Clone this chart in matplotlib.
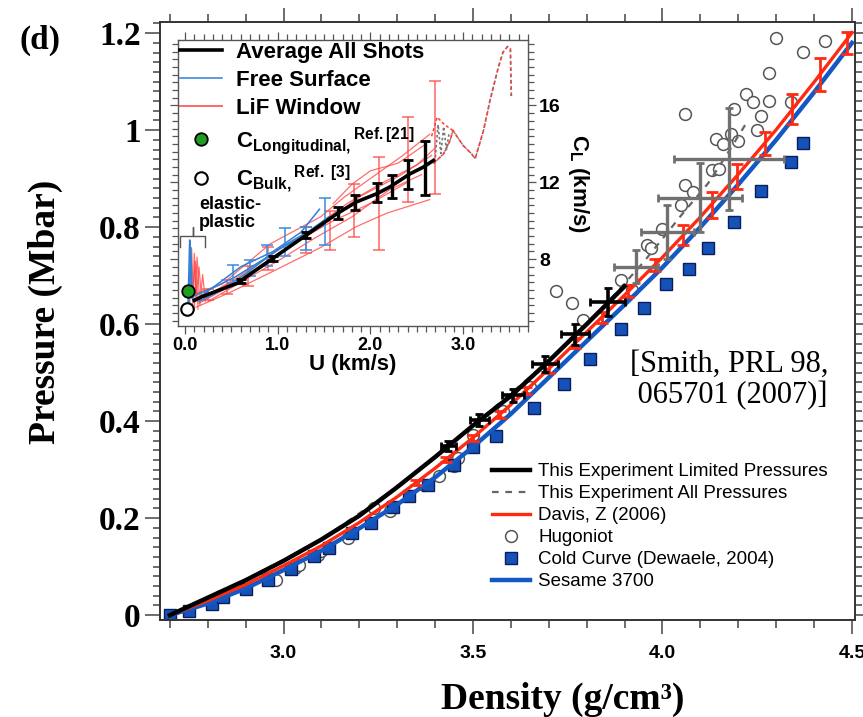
import matplotlib
matplotlib.use("Agg")
import matplotlib.pyplot as plt
from matplotlib.ticker import MultipleLocator, FixedLocator
from matplotlib.lines import Line2D

plt.rcParams['font.family'] = ['Liberation Sans', 'DejaVu Sans']
plt.rcParams['mathtext.fontset'] = 'custom'
plt.rcParams['mathtext.rm'] = 'Liberation Sans:bold'
plt.rcParams['mathtext.bf'] = 'Liberation Sans:bold'
plt.rcParams['mathtext.it'] = 'Liberation Sans:bold:italic'

SERIF = ['Liberation Serif', 'DejaVu Serif']

# ---- main panel: pressure (Mbar) vs density (g/cm3) ----
sesame_rho = [2.70, 2.80, 2.90, 3.00, 3.10, 3.20, 3.30, 3.40, 3.50, 3.60,
              3.70, 3.80, 3.90, 4.00, 4.10, 4.20, 4.30, 4.40, 4.50]
sesame_p = [0.000, 0.024, 0.055, 0.093, 0.133, 0.179, 0.228, 0.284, 0.347, 0.415,
            0.490, 0.565, 0.640, 0.717, 0.800, 0.888, 0.980, 1.078, 1.180]

davis_rho = sesame_rho
davis_p = [0.000, 0.030, 0.063, 0.102, 0.143, 0.191, 0.244, 0.303, 0.366, 0.434,
           0.508, 0.584, 0.660, 0.738, 0.821, 0.909, 1.001, 1.099, 1.201]

limited_rho = [2.70, 2.80, 2.90, 3.00, 3.10, 3.20, 3.30, 3.40, 3.50, 3.60, 3.70, 3.80, 3.90]
limited_p = [0.000, 0.036, 0.072, 0.112, 0.156, 0.205, 0.264, 0.326, 0.391, 0.452, 0.524, 0.600, 0.678]

allp_rho = [2.70, 2.90, 3.10, 3.30, 3.50, 3.70, 3.85, 3.95, 4.00, 4.05, 4.12, 4.17, 4.22]
allp_p = [0.000, 0.072, 0.156, 0.264, 0.391, 0.524, 0.640, 0.728, 0.776, 0.825, 0.890, 0.950, 1.013]

hug_rho = [2.96, 2.98, 3.03, 3.04, 3.09, 3.10, 3.17, 3.24, 3.28, 3.37, 3.41, 3.45,
           3.46, 3.50, 3.58, 3.65, 3.72, 3.76, 3.79, 3.89, 3.92, 3.96, 3.97, 4.00,
           4.05, 4.06, 4.08, 4.06, 4.13, 4.14, 4.15, 4.16, 4.18, 4.19, 4.20, 4.22,
           4.24, 4.25, 4.26, 4.28, 4.28, 4.30, 4.34, 4.37, 4.43]
hug_p = [0.077, 0.073, 0.097, 0.103, 0.125, 0.132, 0.159, 0.221, 0.214, 0.269, 0.286, 0.307,
         0.324, 0.372, 0.420, 0.471, 0.668, 0.643, 0.608, 0.691, 0.670, 0.764, 0.756, 0.797,
         0.845, 0.886, 0.872, 1.034, 0.917, 0.981, 0.920, 0.972, 0.992, 1.044, 0.977, 1.075,
         1.058, 1.001, 1.029, 1.061, 1.117, 1.191, 1.058, 1.162, 1.184]

cold_rho = [2.70, 2.75, 2.81, 2.84, 2.90, 2.96, 3.02, 3.08, 3.12, 3.18, 3.23, 3.29,
            3.33, 3.38, 3.45, 3.50, 3.56, 3.66, 3.74, 3.81, 3.89, 3.95, 4.01, 4.07,
            4.12, 4.19, 4.26, 4.34, 4.37]
cold_p = [0.000, 0.008, 0.023, 0.037, 0.054, 0.072, 0.095, 0.121, 0.138, 0.169, 0.191, 0.222,
          0.245, 0.269, 0.310, 0.346, 0.370, 0.428, 0.476, 0.528, 0.589, 0.634, 0.682, 0.714,
          0.757, 0.810, 0.875, 0.935, 0.974]

# error crosses on the limited-pressure data
lim_err_rho = [3.435, 3.517, 3.606, 3.690, 3.769, 3.855]
lim_err_p = [0.349, 0.403, 0.453, 0.518, 0.579, 0.646]
lim_err_drho = [0.020, 0.024, 0.029, 0.035, 0.037, 0.047]
lim_err_dp = [0.010, 0.012, 0.014, 0.017, 0.022, 0.029]

# error crosses on the all-pressure data
all_err_rho = [3.930, 4.013, 4.099, 4.176]
all_err_p = [0.718, 0.790, 0.861, 0.940]
all_err_drho = [0.057, 0.070, 0.110, 0.145]
all_err_dp = [0.034, 0.055, 0.072, 0.105]

# error bars on the Davis curve
davis_err_rho = [3.35, 3.43, 3.50, 3.57, 3.64, 3.70, 3.77, 3.84, 3.91,
                 3.98, 4.055, 4.13, 4.196, 4.27, 4.343, 4.416, 4.486]
davis_err_p = [0.273, 0.321, 0.366, 0.413, 0.463, 0.508, 0.561, 0.614, 0.668,
               0.722, 0.784, 0.846, 0.904, 0.973, 1.043, 1.114, 1.180]
davis_err_dp = [0.005, 0.006, 0.006, 0.007, 0.008, 0.009, 0.010, 0.011, 0.012,
                0.012, 0.020, 0.027, 0.026, 0.024, 0.031, 0.034, 0.022]

# ---- inset: longitudinal sound speed vs particle velocity ----
avg_u = [0.10, 0.18, 0.56, 0.92, 1.28, 1.64, 1.85, 2.07, 2.21, 2.43, 2.57, 2.68]
avg_c = [5.85, 6.04, 6.74, 7.95, 9.16, 10.37, 10.98, 11.41, 11.76, 12.45, 12.79, 13.14]
avg_err_u = [0.60, 0.95, 1.30, 1.65, 1.83, 2.07, 2.23, 2.41, 2.59]
avg_err_c = [6.85, 8.05, 9.25, 10.40, 10.95, 11.45, 11.80, 12.40, 12.75]
avg_err_dc = [0.10, 0.12, 0.15, 0.30, 0.40, 0.50, 0.60, 0.75, 1.40]

fs_traces = [
    ([0.10, 0.30, 0.55, 0.85, 1.10, 1.35, 1.55], [6.1, 6.5, 7.1, 8.0, 8.8, 9.5, 10.2]),
    ([0.15, 0.40, 0.70, 1.00, 1.30, 1.50], [5.8, 6.4, 7.4, 8.5, 9.2, 9.8]),
    ([0.12, 0.35, 0.60, 0.95, 1.25, 1.45], [5.9, 6.7, 7.6, 8.4, 9.4, 10.6]),
    ([0.03, 0.05, 0.06, 0.07, 0.09], [5.3, 9.0, 8.2, 6.0, 5.9]),
    ([0.04, 0.06, 0.08, 0.10], [5.5, 8.6, 6.1, 5.8]),
]
fs_err_u = [0.52, 0.70, 0.88, 1.08, 1.31, 1.51]
fs_err_c = [7.23, 7.53, 8.18, 8.87, 9.10, 9.97]
fs_err_dc = [0.47, 0.43, 0.56, 0.73, 0.60, 1.23]

lif_traces = [
    ([0.10, 0.40, 0.92, 1.46, 1.71, 2.00, 2.35, 2.64], [6.2, 6.7, 8.8, 10.2, 11.2, 12.2, 13.4, 14.5]),
    ([0.12, 0.50, 0.92, 1.46, 1.85, 2.18, 2.64], [5.5, 6.3, 7.3, 8.6, 9.7, 10.4, 11.1]),
    ([0.10, 0.35, 0.70, 1.10, 1.50, 1.90, 2.30, 2.66], [5.9, 6.4, 7.3, 8.6, 9.9, 11.3, 12.3, 13.4]),
    ([0.15, 0.45, 0.80, 1.20, 1.60, 2.00, 2.40], [5.7, 6.5, 7.5, 8.9, 10.0, 10.9, 12.0]),
    ([0.20, 0.55, 0.95, 1.35, 1.75, 2.10, 2.50, 2.70], [6.0, 7.0, 8.3, 9.5, 10.9, 11.9, 12.9, 13.8]),
    ([0.25, 0.60, 1.00, 1.40, 1.80, 2.20, 2.55], [5.8, 6.8, 7.9, 9.1, 10.2, 11.6, 12.4]),
    ([1.60, 1.80, 2.00, 2.30, 2.60], [10.9, 11.9, 12.6, 13.0, 14.0]),
    ([0.05, 0.07, 0.09, 0.11, 0.14], [5.6, 8.6, 6.2, 7.9, 5.4]),
    ([0.08, 0.10, 0.12, 0.15, 0.18], [5.3, 8.3, 6.0, 7.6, 5.9]),
    ([0.10, 0.13, 0.16, 0.19, 0.22], [5.4, 8.1, 5.6, 7.2, 5.8]),
]
lif_err_u = [0.25, 0.45, 0.68, 0.90, 1.31, 1.56, 1.82, 2.09, 2.41, 2.70]
lif_err_c = [6.15, 6.55, 7.10, 8.05, 9.00, 9.50, 10.55, 10.90, 13.20, 14.35]
lif_err_dc = [0.30, 0.35, 0.52, 0.60, 0.69, 1.03, 1.38, 2.40, 2.20, 2.95]

# high-velocity tail (dotted)
tail_u = [2.68, 2.79, 2.86, 2.89, 3.00, 3.09, 3.13, 3.22, 3.29, 3.38, 3.43, 3.48, 3.51, 3.52]
tail_c = [12.97, 13.49, 14.18, 14.70, 13.92, 13.49, 13.23, 14.70, 16.26, 17.99, 18.77, 19.07, 18.95, 16.43]
tail_top_u = [2.66, 2.72, 2.80, 2.89]
tail_top_c = [14.40, 15.39, 15.00, 14.70]
tail_gray_u = [2.70, 2.73, 2.76, 2.79, 2.82, 2.85]
tail_gray_c = [13.3, 15.0, 13.5, 14.9, 13.7, 14.6]

c_long = (0.03, 6.32)
c_bulk = (0.02, 5.39)

BLUE = '#1458c4'
RED = '#ff2a12'
GRAY = '#707070'

fig = plt.figure(figsize=(8.63, 7.17), dpi=100)
ax = fig.add_axes([160 / 863, 97 / 717, 695 / 863, 598 / 717])

ax.plot(allp_rho, allp_p, color='#666666', lw=1.6, ls=(0, (3, 3)), zorder=3,
        label='This Experiment All Pressures')
ax.plot(hug_rho, hug_p, 'o', mfc='white', mec='#555555', ms=8.5, mew=1.1, zorder=2,
        label='Hugoniot')
ax.plot(cold_rho, cold_p, 's', mfc='#1452b8', mec='#0b1d5a', ms=8, mew=1.0, zorder=2.5,
        label='Cold Curve (Dewaele, 2004)')
ax.plot(sesame_rho, sesame_p, color=BLUE, lw=3.2, zorder=4, label='Sesame 3700')
ax.plot(davis_rho, davis_p, color=RED, lw=2.4, zorder=5, label='Davis, Z (2006)')
ax.plot(limited_rho, limited_p, color='black', lw=3.2, zorder=6,
        label='This Experiment Limited Pressures')

ax.errorbar(davis_err_rho, davis_err_p, yerr=davis_err_dp, fmt='none', ecolor=RED,
            elinewidth=2, capsize=4.5, capthick=2, zorder=5)
ax.errorbar(all_err_rho, all_err_p, xerr=all_err_drho, yerr=all_err_dp, fmt='none',
            ecolor=GRAY, elinewidth=2.4, capsize=3, capthick=2, zorder=6)
ax.errorbar(lim_err_rho, lim_err_p, xerr=lim_err_drho, yerr=lim_err_dp, fmt='none',
            ecolor='black', elinewidth=2.6, capsize=3, capthick=2, zorder=7)

ax.set_xlim(2.674, 4.508)
ax.set_ylim(-0.010, 1.223)
ax.xaxis.set_major_locator(FixedLocator([3.0, 3.5, 4.0, 4.5]))
ax.set_xticklabels(['3.0', '3.5', '4.0', '4.5'], fontsize=14, fontweight='bold')
ax.xaxis.set_minor_locator(MultipleLocator(0.1))
ax.yaxis.set_major_locator(FixedLocator([0, 0.2, 0.4, 0.6, 0.8, 1.0, 1.2]))
ax.set_yticklabels(['0', '0.2', '0.4', '0.6', '0.8', '1', '1.2'],
                   fontsize=24, fontweight='bold', family=SERIF)
ax.yaxis.set_minor_locator(MultipleLocator(0.02))
ax.tick_params(which='both', direction='out', top=True, right=True, color='#444444', width=1.1)
ax.tick_params(axis='y', which='major', length=11, pad=3)
ax.tick_params(axis='y', which='minor', length=5)
ax.tick_params(axis='x', which='major', length=10, pad=8)
ax.tick_params(axis='x', which='minor', length=6)
for s in ax.spines.values():
    s.set_color('#333333')
    s.set_linewidth(1.4)

# legend order as in the key
h = {l.get_label(): l for l in ax.get_lines()}
order = ['This Experiment Limited Pressures', 'This Experiment All Pressures',
         'Davis, Z (2006)', 'Hugoniot', 'Cold Curve (Dewaele, 2004)', 'Sesame 3700']
leg = ax.legend([h[k] for k in order], order, loc='upper left', bbox_to_anchor=(0.478, 0.262),
                frameon=False, fontsize=13.5, handlelength=2.0, handletextpad=0.45,
                labelspacing=0.26, borderpad=0.0, borderaxespad=0.0)

fig.text(630 / 863, 1 - 350 / 717, "[Smith, PRL 98,\n 065701 (2007)]", family=SERIF,
         fontsize=22, va='top', ha='left', linespacing=1.1)
fig.text(40 / 863, 1 - 40 / 717, '(d)', family=SERIF, fontsize=24, fontweight='bold',
         ha='center', va='center')
fig.text(45 / 863, 1 - 312 / 717, 'Pressure (Mbar)', family=SERIF, fontsize=27,
         fontweight='bold', rotation=90, ha='center', va='center')
fig.text(563 / 863, 1 - 699 / 717, 'Density (g/cm\u00b3)', family=SERIF, fontsize=27,
         fontweight='bold', ha='center', va='center')

# ---- inset ----
ins = fig.add_axes([178 / 863, 391 / 717, 350 / 863, 286 / 717])
ins.set_zorder(10)
ins.set_facecolor('white')

for u, c in lif_traces:
    ins.plot(u, c, color='#ff3c3c', lw=0.9, alpha=0.75, zorder=2)
ins.errorbar(lif_err_u, lif_err_c, yerr=lif_err_dc, fmt='none', ecolor='#ff4a4a',
             elinewidth=1.1, capsize=4, capthick=1.1, alpha=0.85, zorder=2)
for u, c in fs_traces:
    ins.plot(u, c, color='#2f80d8', lw=1.1, zorder=3)
ins.errorbar(fs_err_u, fs_err_c, yerr=fs_err_dc, fmt='none', ecolor='#3a8ae0',
             elinewidth=1.1, capsize=4, capthick=1.1, zorder=3)
ins.plot(tail_u, tail_c, color='#ff3c3c', lw=1.3, ls=(0, (2, 1.5)), zorder=3)
ins.plot(tail_top_u, tail_top_c, color='#ff3c3c', lw=1.1, ls=(0, (2, 1.5)), zorder=3)
ins.plot(tail_gray_u, tail_gray_c, color='#777777', lw=1.2, ls=(0, (1.5, 1.5)), zorder=3)
ins.plot(tail_u, tail_c, color='#777777', lw=1.0, ls=(1.5, (1.5, 3)), zorder=4)
ins.plot(avg_u, avg_c, color='black', lw=2.6, zorder=5)
ins.errorbar(avg_err_u, avg_err_c, yerr=avg_err_dc, fmt='none', ecolor='black',
             elinewidth=2.4, capsize=3.5, capthick=2, zorder=5)
ins.plot(*c_long, 'o', mfc='#1e9e1e', mec='black', ms=9, mew=1.3, zorder=6)
ins.plot(*c_bulk, 'o', mfc='white', mec='black', ms=9, mew=1.5, zorder=6)

# elastic-plastic bracket
ins.plot([-0.054, -0.054, 0.083, 0.083, 0.083, 0.216, 0.216],
         [8.64, 9.19, 9.19, 9.68, 9.19, 9.19, 8.64], color='#555555', lw=1.0, zorder=6)
ins.text(0.15, 10.37, 'elastic-\nplastic', fontsize=13, fontweight='bold',
         ha='left', va='center', linespacing=1.05, zorder=7)

ins.set_xlim(-0.076, 3.70)
ins.set_ylim(4.52, 19.41)
ins.xaxis.set_major_locator(FixedLocator([0, 1, 2, 3]))
ins.set_xticklabels(['0.0', '1.0', '2.0', '3.0'], fontsize=13, fontweight='bold')
ins.xaxis.set_minor_locator(MultipleLocator(0.1))
ins.yaxis.set_major_locator(FixedLocator([8, 12, 16]))
ins.yaxis.set_minor_locator(MultipleLocator(0.4))
ins.tick_params(which='both', direction='out', top=True, bottom=True, left=True, right=True,
                labelleft=False, labelright=True, color='#555555', width=0.9)
ins.tick_params(which='major', length=6, pad=2)
ins.tick_params(which='minor', length=4)
ins.set_yticklabels(['8', '12', '16'], fontsize=14, fontweight='bold')
for s in ins.spines.values():
    s.set_color('#555555')
    s.set_linewidth(1.0)
ins.set_xlabel('U (km/s)', fontsize=16, fontweight='bold', labelpad=0)
ins.yaxis.set_label_position('right')
ins.set_ylabel(r'C$_\mathrm{L}$ (km/s)', fontsize=16, fontweight='bold', rotation=270,
               labelpad=22)

in_handles = [
    Line2D([], [], color='black', lw=2.6),
    Line2D([], [], color='#2f80d8', lw=1.1),
    Line2D([], [], color='#ff5a5a', lw=1.3),
    Line2D([], [], ls='none', marker='o', mfc='#1e9e1e', mec='black', ms=9, mew=1.3),
    Line2D([], [], ls='none', marker='o', mfc='white', mec='black', ms=9, mew=1.5),
]
in_labels = ['Average All Shots', 'Free Surface', 'LiF Window',
             r'C$_{\mathrm{Longitudinal,}}{}^{\mathrm{Ref.[21]}}$',
             r'C$_{\mathrm{Bulk,}}{}^{\mathrm{Ref.\ [3]}}$']
ins.legend(in_handles, in_labels, loc='upper left', bbox_to_anchor=(0.0, 1.0), frameon=False,
           prop={'size': 16, 'weight': 'bold'}, handlelength=1.9, handletextpad=0.6,
           labelspacing=0.3, borderpad=0.1, borderaxespad=0.0)

fig.savefig('out.png', dpi=100)
